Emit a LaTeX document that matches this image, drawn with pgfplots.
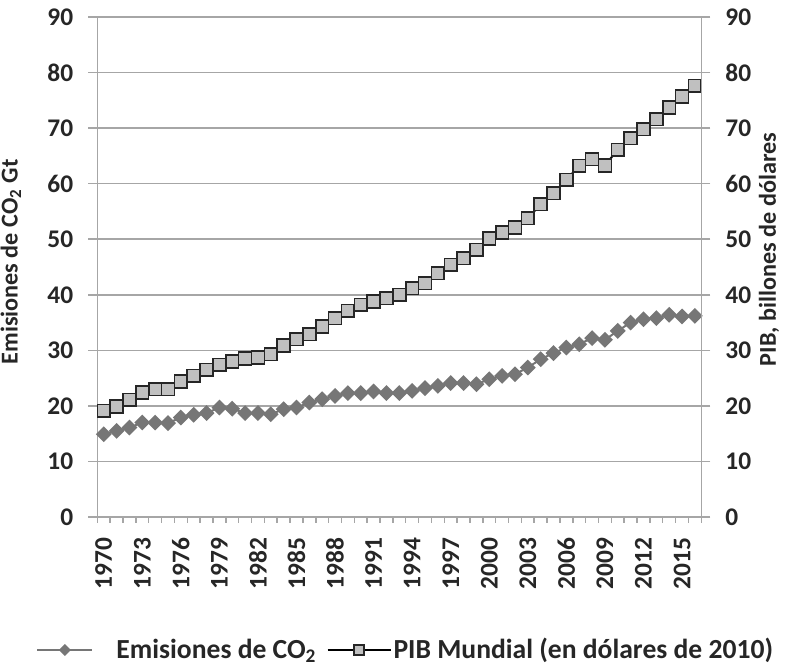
\documentclass[border=0pt]{standalone}
\usepackage{fontspec}
\setmainfont{Carlito}
\usepackage{pgfplots}
\usepackage{pgfplotstable}
\pgfplotsset{compat=1.18}
\definecolor{gridgray}{HTML}{A6A6A6}
\definecolor{co2gray}{HTML}{767676}
\definecolor{pibfill}{HTML}{C0C0C0}
\definecolor{pibedge}{HTML}{262626}
\definecolor{txt}{HTML}{262626}
\newcommand{\lblfont}{\bfseries\fontsize{12.7}{15}\selectfont}
\newcommand{\axlblfont}{\bfseries\fontsize{12.1}{14}\selectfont}
\newcommand{\legfont}{\bfseries\fontsize{13.8}{16}\selectfont}

% emisiones (Gt CO2) y PIB (billones USD 2010)
\pgfplotstableread{
year co2  pib
1970 14.9 19.1
1971 15.5 19.9
1972 16.1 21.1
1973 17.0 22.4
1974 17.0 23.0
1975 16.9 23.0
1976 17.9 24.4
1977 18.4 25.4
1978 18.7 26.5
1979 19.7 27.4
1980 19.5 28.0
1981 18.7 28.5
1982 18.7 28.7
1983 18.5 29.3
1984 19.4 30.9
1985 19.7 32.0
1986 20.6 32.9
1987 21.2 34.3
1988 21.8 35.8
1989 22.3 37.1
1990 22.3 38.2
1991 22.6 38.8
1992 22.3 39.4
1993 22.3 40.0
1994 22.7 41.2
1995 23.2 42.1
1996 23.6 43.9
1997 24.1 45.4
1998 24.1 46.6
1999 23.9 48.1
2000 24.8 50.1
2001 25.4 51.2
2002 25.7 52.1
2003 26.9 53.8
2004 28.4 56.3
2005 29.5 58.3
2006 30.5 60.7
2007 31.1 63.2
2008 32.2 64.4
2009 31.9 63.3
2010 33.5 66.1
2011 35.0 68.2
2012 35.6 69.8
2013 35.8 71.6
2014 36.4 73.7
2015 36.1 75.7
2016 36.2 77.6
}\datatable

\pgfplotsset{
  common/.style={
    scale only axis, width=302pt, height=250pt,
    xmin=1969.5, xmax=2016.5, ymin=0, ymax=90,
    ytick={0,10,...,90},
    axis line style={gridgray, line width=0.75pt},
    tick style={gridgray, line width=0.75pt},
    tick align=outside,
    major tick length=4.5pt, minor tick length=2.8pt,
    ticklabel style={font=\lblfont, text=txt},
    label style={font=\axlblfont, text=txt},
    yticklabel shift=4pt,
    /pgf/number format/.cd, 1000 sep={}, assume math mode=true, /pgfplots/.cd,
  },
  legco2/.style={legend image code/.code={
    \draw[mark repeat=2, mark phase=2, ##1, /tikz/every mark/.append style={scale=0.7}]
      plot coordinates {(0pt,0pt) (13.75pt,0pt) (27.5pt,0pt)};
    \path (39pt,0pt);}},
  legpib/.style={legend image code/.code={
    \draw[mark repeat=2, mark phase=2, ##1, /tikz/every mark/.append style={scale=0.75}]
      plot coordinates {(0pt,0pt) (15.75pt,0pt) (31.5pt,0pt)};
    \path (32.5pt,0pt);}},
}

\begin{document}
\begin{tikzpicture}
\path[use as bounding box] (-48.65pt,-75pt) rectangle (344.85pt,258.5pt);
\begin{axis}[
  common,
  axis x line*=bottom, axis y line*=left,
  xtick={1970,1973,...,2015},
  minor xtick={1969.5,1970.5,...,2016.5},
  major x tick style={draw=none},
  xticklabel style={rotate=90, anchor=east},
  xticklabel shift=2.5pt,
  ymajorgrids, grid style={gridgray, line width=0.75pt},
  ylabel={Emisiones de CO\textsubscript{2} Gt},
  ylabel style={at={(axis description cs:-0.143,0.51)}, anchor=center},
  legend style={at={(axis description cs:0.509,-0.266)}, anchor=center,
    draw=none, fill=none, font=\legfont, text=txt,
    nodes={inner sep=0pt},
    /tikz/every even column/.append style={column sep=5pt}},
  legend columns=2,
]
\addplot[co2gray, line width=1pt, mark=square*, mark size=2.3pt,
  mark options={rotate=45, fill=co2gray, draw=co2gray}, legco2]
  table[x=year, y=co2]{\datatable};
\addlegendentry{Emisiones de CO\textsubscript{2}}
\addplot[black, line width=1pt, mark=square*, mark size=3.2pt,
  mark options={fill=pibfill, draw=pibedge, line width=0.8pt}, legpib]
  table[x=year, y=pib]{\datatable};
\addlegendentry{PIB Mundial (en dólares de 2010)}
\end{axis}
\begin{axis}[
  common,
  axis x line=none, axis y line*=right,
  ylabel={PIB, billones de dólares},
  ylabel style={at={(axis description cs:1.112,0.535)}, anchor=center},
]
\end{axis}
\end{tikzpicture}
\end{document}
